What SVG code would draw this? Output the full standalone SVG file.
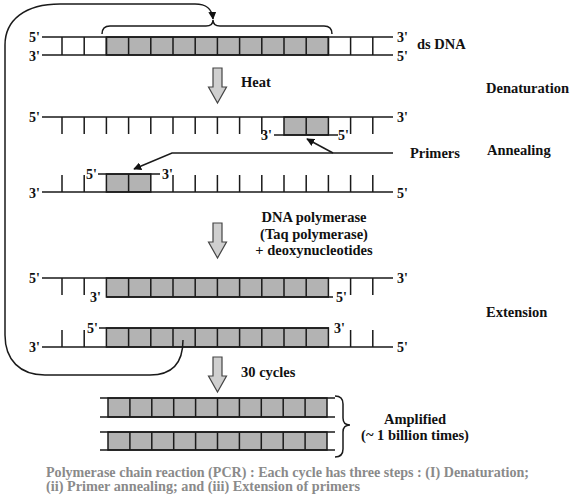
<svg xmlns="http://www.w3.org/2000/svg" width="576" height="497" viewBox="0 0 576 497">
<style>
.s{stroke:#1a1a1a;stroke-width:1.5;fill:none}
.g{fill:#b3b3b3;stroke:#1a1a1a;stroke-width:1.5}
.t{font-family:"Liberation Serif",serif;font-weight:bold;font-size:14.5px;fill:#111}
.e{font-family:"Liberation Serif",serif;font-weight:bold;font-size:14px;fill:#111}
.ba{fill:#cfcfcf;stroke:#444;stroke-width:1.2}
.cap{font-family:"Liberation Serif",serif;font-weight:bold;font-size:14px;fill:#8a8a8a}
</style>
<defs>
<marker id="ah" viewBox="0 0 10 10" refX="9" refY="5" markerWidth="8" markerHeight="8" markerUnits="userSpaceOnUse" orient="auto"><path d="M0,0 L10,5 L0,10 z" fill="#111"/></marker>
<g id="barrow"><polygon class="ba" points="-4.5,0 4.5,0 4.5,19 9,19 0,35 -9,19 -4.5,19"/></g>
</defs>

<g id="dsDNA">
<rect class="g" x="106.4" y="37" width="222" height="18"/>
<path class="s" d="M42,37H393M42,55H393M62,37V55M84.2,37V55M106.4,37V55M128.6,37V55M150.8,37V55M173,37V55M195.2,37V55M217.4,37V55M239.6,37V55M261.8,37V55M284,37V55M306.2,37V55M328.4,37V55M350.6,37V55M372.8,37V55"/>
<text class="e" x="40" y="42" text-anchor="end">5'</text>
<text class="e" x="40" y="61" text-anchor="end">3'</text>
<text class="e" x="397" y="42">3'</text>
<text class="e" x="397" y="61">5'</text>
<text class="t" x="417" y="49">ds DNA</text>
<path class="s" d="M102,34 Q102,26 110,26 L206,26 Q213,26 213,20 Q213,26 220,26 L324,26 Q332,26 332,34"/>
</g>

<g id="heat">
<use href="#barrow" x="217.5" y="68"/>
<text class="t" x="241" y="87">Heat</text>
</g>
<text class="t" x="486" y="93">Denaturation</text>

<g id="strand1">
<rect class="g" x="284" y="117" width="44.4" height="18"/>
<path class="s" d="M42,117H393M62,117V134M84.2,117V134M106.4,117V134M128.6,117V134M150.8,117V134M173,117V134M195.2,117V134M217.4,117V134M239.6,117V134M261.8,117V134M306.2,117V135M350.6,117V134M372.8,117V134M274,135H338"/>
<text class="e" x="40" y="122" text-anchor="end">5'</text>
<text class="e" x="397" y="122">3'</text>
<text class="e" x="272" y="140" text-anchor="end">3'</text>
<text class="e" x="338" y="140">5'</text>
</g>

<g id="strand2">
<rect class="g" x="106.4" y="174" width="44.4" height="18"/>
<path class="s" d="M42,192H393M62,175V192M84.2,175V192M128.6,174V192M173,175V192M195.2,175V192M217.4,175V192M239.6,175V192M261.8,175V192M284,175V192M306.2,175V192M328.4,175V192M350.6,175V192M372.8,175V192M98,174H160"/>
<text class="e" x="40" y="198" text-anchor="end">3'</text>
<text class="e" x="397" y="198">5'</text>
<text class="e" x="97" y="179" text-anchor="end">5'</text>
<text class="e" x="162" y="179">3'</text>
</g>

<g id="primers">
<text class="t" x="410" y="158">Primers</text>
</g>
<text class="t" x="487" y="155">Annealing</text>

<g id="polymerase">
<use href="#barrow" x="217.5" y="223"/>
<text class="t" x="314" y="222" text-anchor="middle">DNA polymerase</text>
<text class="t" x="314" y="239" text-anchor="middle">(Taq polymerase)</text>
<text class="t" x="314" y="255" text-anchor="middle">+ deoxynucleotides</text>
</g>

<g id="extA">
<rect class="g" x="106.4" y="278" width="222" height="19"/>
<path class="s" d="M42,278H393M62,278V295M84.2,278V295M350.6,278V295M372.8,278V295M128.6,278V297M150.8,278V297M173,278V297M195.2,278V297M217.4,278V297M239.6,278V297M261.8,278V297M284,278V297M306.2,278V297M106.4,297H333"/>
<text class="e" x="40" y="283" text-anchor="end">5'</text>
<text class="e" x="397" y="283">3'</text>
<text class="e" x="101" y="302" text-anchor="end">3'</text>
<text class="e" x="336" y="302">5'</text>
</g>

<g id="extB">
<rect class="g" x="106.4" y="328" width="222" height="19"/>
<path class="s" d="M42,347H393M62,330V347M84.2,330V347M350.6,330V347M372.8,330V347M128.6,328V347M150.8,328V347M173,328V347M195.2,328V347M217.4,328V347M239.6,328V347M261.8,328V347M284,328V347M306.2,328V347M99,328H329"/>
<text class="e" x="40" y="352" text-anchor="end">3'</text>
<text class="e" x="397" y="352">5'</text>
<text class="e" x="98" y="333" text-anchor="end">5'</text>
<text class="e" x="334" y="333">3'</text>
</g>
<text class="t" x="486" y="317">Extension</text>

<g id="cycles">
<use href="#barrow" x="217.5" y="357"/>
<text class="t" x="241" y="377">30 cycles</text>
</g>

<g id="amplified">
<rect class="g" x="108" y="398" width="219" height="19"/>
<rect class="g" x="108" y="432" width="219" height="18"/>
<path class="s" d="M100,398H335M100,417H335M100,432H335M100,450H335M129.9,398V417M151.8,398V417M173.7,398V417M195.6,398V417M217.5,398V417M239.4,398V417M261.3,398V417M283.2,398V417M305.1,398V417M129.9,432V450M151.8,432V450M173.7,432V450M195.6,432V450M217.5,432V450M239.4,432V450M261.3,432V450M283.2,432V450M305.1,432V450"/>
<path class="s" d="M335,396 Q343,396 343,404 L343,418 Q343,425 350,425 Q343,425 343,432 L343,449 Q343,457 335,457"/>
<text class="t" x="415" y="424" text-anchor="middle">Amplified</text>
<text class="t" x="415" y="440" text-anchor="middle">(~ 1 billion times)</text>
</g>

<g id="connectors">
<path class="s" d="M183,340 C183,360 175,375 150,375 L45,375 C20,375 5,360 5,335 L5,45 C5,20 25,4 60,4 L195,4 C206,4 212,8 213,19" marker-end="url(#ah)"/>
<path class="s" d="M393,153 H172 L134,169" marker-end="url(#ah)"/>
<path class="s" d="M333,153 L307,139" marker-end="url(#ah)"/>
</g>

<g id="caption">
<text class="cap" x="46" y="477" textLength="483" lengthAdjust="spacingAndGlyphs">Polymerase chain reaction (PCR) : Each cycle has three steps : (I) Denaturation;</text>
<text class="cap" x="46" y="491" textLength="314" lengthAdjust="spacingAndGlyphs">(ii) Primer annealing; and (iii) Extension of primers</text>
</g>
</svg>
